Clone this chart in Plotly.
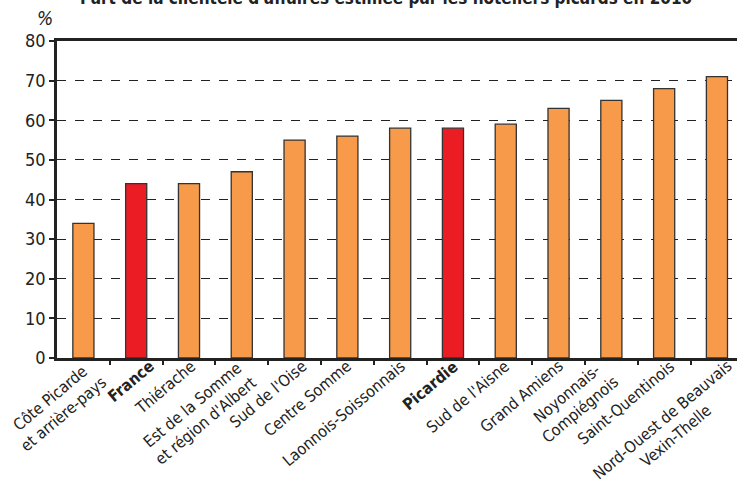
import plotly.graph_objects as go

categories = [
    "Côte Picarde<br>et arrière-pays", "<b>France</b>", "Thiérache",
    "Est de la Somme<br>et région d'Albert", "Sud de l'Oise", "Centre Somme",
    "Laonnois-Soissonnais", "<b>Picardie</b>", "Sud de l'Aisne", "Grand Amiens",
    "Noyonnais-<br>Compiégnois", "Saint-Quentinois",
    "Nord-Ouest de Beauvais<br>Vexin-Thelle",
]
values = [34, 44, 44, 47, 55, 56, 58, 58, 59, 63, 65, 68, 71]
highlight = [False, True, False, False, False, False, False, True, False, False, False, False, False]
y_ticks = [0, 10, 20, 30, 40, 50, 60, 70, 80]

# layout: horizontal nudge (px) of each rotated category label
label_nudge = [30, 24, 13, 21, 18, 10.5, 11.5, 11.5, 10.5, 11, 13, 17, 35]

ORANGE = "#F79A4A"
RED = "#EC1C24"
FONT = "DejaVu Sans Condensed, sans-serif"

colors = [RED if h else ORANGE for h in highlight]
xpos = list(range(len(categories)))

fig = go.Figure(go.Bar(
    x=xpos, y=values, marker=dict(color=colors, line=dict(color="#333333", width=1.3)),
    width=0.4,
))

fig.update_layout(
    width=737, height=483,
    margin=dict(l=57, r=0, t=41, b=125, autoexpand=False),
    paper_bgcolor="white", plot_bgcolor="white",
    font=dict(family=FONT, color="#222222"),
    showlegend=False,
)
fig.update_xaxes(
    range=[-0.5, 12.38], tickvals=[i + 0.5 for i in xpos[:-1]], showticklabels=False,
    ticks="outside", ticklen=4, tickcolor="#222", tickwidth=1.5,
    showline=True, linecolor="#222", linewidth=2.5, mirror=True,
    showgrid=False, zeroline=False, automargin=False,
)
fig.update_yaxes(
    range=[0, 80], tickvals=y_ticks, ticks="outside", ticklen=5, tickcolor="#222", tickwidth=1.5,
    showline=True, linecolor="#222", linewidth=2.5,
    showgrid=True, gridcolor="#222", griddash="dash", gridwidth=1,
    tickfont=dict(size=18, family=FONT), zeroline=False, automargin=False,
)
for i, lab in enumerate(categories):
    fig.add_annotation(
        text=lab, x=i, y=0, xref="x", yref="y", xanchor="right", yanchor="top",
        xshift=label_nudge[i], yshift=4, textangle=-40, align="center", showarrow=False,
        font=dict(size=16, family=FONT, color="#222"),
    )
fig.add_annotation(
    text="<b>Part de la clientèle d'affaires estimée par les hôteliers picards en 2010</b>",
    xref="paper", yref="paper", x=(386 - 57) / 680, y=1.0, yshift=43, xanchor="center", yanchor="middle",
    showarrow=False, font=dict(size=17, family=FONT, color="#222"),
)
fig.add_annotation(
    text="<i>%</i>", xref="paper", yref="paper", x=0, xshift=-12, y=1.0, yshift=23,
    xanchor="center", yanchor="middle", showarrow=False,
    font=dict(size=19, family=FONT, color="#222"),
)

fig.write_html(
    "out.html",
    config={"displayModeBar": False},
    post_script="document.body.style.margin='0';document.body.style.overflow='hidden';",
)
